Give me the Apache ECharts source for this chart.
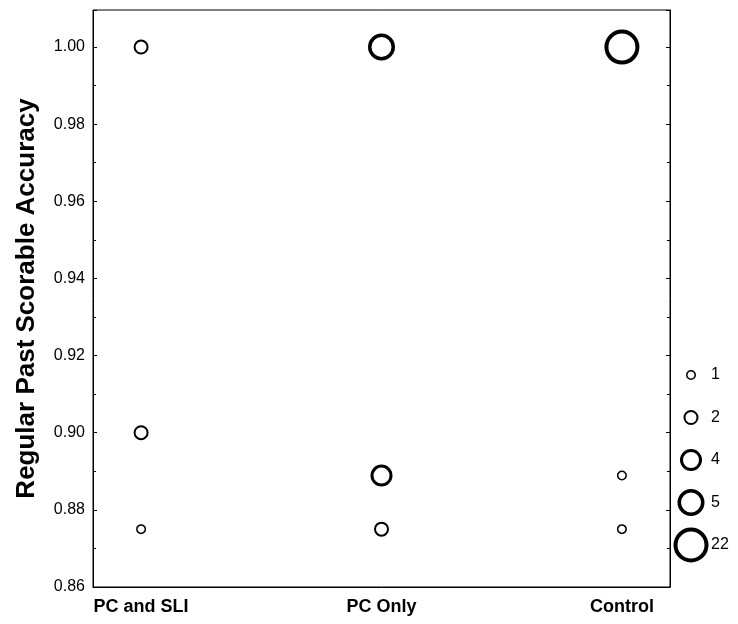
<!DOCTYPE html>
<html>
<head>
<meta charset="utf-8">
<script src="https://cdn.jsdelivr.net/npm/echarts@6/dist/echarts.min.js"></script>
<style>html,body{margin:0;padding:0;background:#fff}#c{width:738px;height:624px}</style>
</head>
<body>
<div id="c"></div>
<script>
// ---- data ----
var groups = ['PC and SLI', 'PC Only', 'Control'];
var accPCSLI = [1.00, 0.90, 0.875];
var nPCSLI = [2, 2, 1];
var accPCOnly = [1.00, 0.8889, 0.875];
var nPCOnly = [5, 4, 2];
var accControl = [1.00, 0.8889, 0.875];
var nControl = [22, 1, 1];
var legendCounts = [1, 2, 4, 5, 22];
var yTicksMin = 0.86, yTicksMax = 1.0096, yStep = 0.02;

// ---- style lookup by count ----
var sizeStyle = {
  1: {outer: 10, lw: 1.5},
  2: {outer: 15, lw: 2},
  4: {outer: 22, lw: 3},
  5: {outer: 27, lw: 3.5},
  22: {outer: 35, lw: 4}
};
function pt(x, y, n) {
  var s = sizeStyle[n];
  return {value: [x, y], symbolSize: s.outer - s.lw,
    itemStyle: {color: 'rgba(0,0,0,0)', borderColor: '#000', borderWidth: s.lw, opacity: 1}};
}
var mainData = [];
[accPCSLI, accPCOnly, accControl].forEach(function (arr, gi) {
  var ns = [nPCSLI, nPCOnly, nControl][gi];
  arr.forEach(function (v, i) { mainData.push(pt(gi + 1, v, ns[i])); });
});
var legData = legendCounts.map(function (n, i) { return pt(0, i, n); });
var legLabels = legendCounts.map(function (n, i) { return {value: [1, i], name: String(n)}; });

var FF = "'Liberation Sans', Arial, sans-serif";
var chart = echarts.init(document.getElementById('c'), null, {renderer: 'canvas'});
chart.setOption({
  animation: false,
  backgroundColor: '#fff',
  grid: [
    {left: 93, top: 10, width: 577, height: 577, show: true, borderColor: '#000', borderWidth: 1, backgroundColor: 'transparent'},
    {left: 691, top: 353.75, width: 20, height: 212.5}
  ],
  xAxis: [
    {gridIndex: 0, type: 'value', min: 0.8, max: 3.2, interval: 0.2,
      axisLine: {show: true, lineStyle: {color: '#000', width: 1}},
      axisTick: {show: false}, splitLine: {show: false},
      axisLabel: {margin: 11, color: '#000', fontSize: 18, fontWeight: 'bold', fontFamily: FF,
        showMinLabel: true, showMaxLabel: true,
        formatter: function (v) {
          var r = Math.round(v);
          return Math.abs(v - r) < 1e-6 && r >= 1 && r <= groups.length ? groups[r - 1] : '';
        }}},
    {gridIndex: 1, type: 'value', min: 0, max: 1, show: false}
  ],
  yAxis: [
    {gridIndex: 0, type: 'value', min: yTicksMin, max: yTicksMax, interval: yStep,
      name: 'Regular Past Scorable Accuracy', nameLocation: 'middle', nameGap: 53,
      nameTextStyle: {fontSize: 26, fontWeight: 'bold', color: '#000', fontFamily: FF},
      axisLine: {show: true, lineStyle: {color: '#000', width: 1}},
      axisTick: {show: true, inside: true, length: 4, lineStyle: {color: '#000'}},
      minorTick: {show: true, splitNumber: 2, length: 3, lineStyle: {color: '#000'}},
      splitLine: {show: false},
      axisLabel: {margin: 8, color: '#000', fontSize: 16, fontFamily: FF, showMaxLabel: false,
        formatter: function (v) { return v.toFixed(2); }}},
    {gridIndex: 0, type: 'value', position: 'right', min: yTicksMin, max: yTicksMax, interval: yStep,
      axisLine: {show: true, lineStyle: {color: '#000', width: 1}},
      axisTick: {show: true, inside: true, length: 4, lineStyle: {color: '#000'}},
      minorTick: {show: true, splitNumber: 2, length: 3, lineStyle: {color: '#000'}},
      splitLine: {show: false}, axisLabel: {show: false}},
    {gridIndex: 1, type: 'category', inverse: true, data: legendCounts.map(String), show: false}
  ],
  series: [
    {type: 'scatter', xAxisIndex: 0, yAxisIndex: 0, symbol: 'circle', data: mainData, silent: true},
    {type: 'scatter', xAxisIndex: 1, yAxisIndex: 2, symbol: 'circle', data: legData, silent: true},
    {type: 'scatter', xAxisIndex: 1, yAxisIndex: 2, symbolSize: 0, data: legLabels, silent: true,
      itemStyle: {opacity: 1},
      label: {show: true, position: 'right', distance: 0, color: '#000', fontSize: 16, fontFamily: FF,
        formatter: function (p) { return p.name; }}}
  ]
});
</script>
</body>
</html>
